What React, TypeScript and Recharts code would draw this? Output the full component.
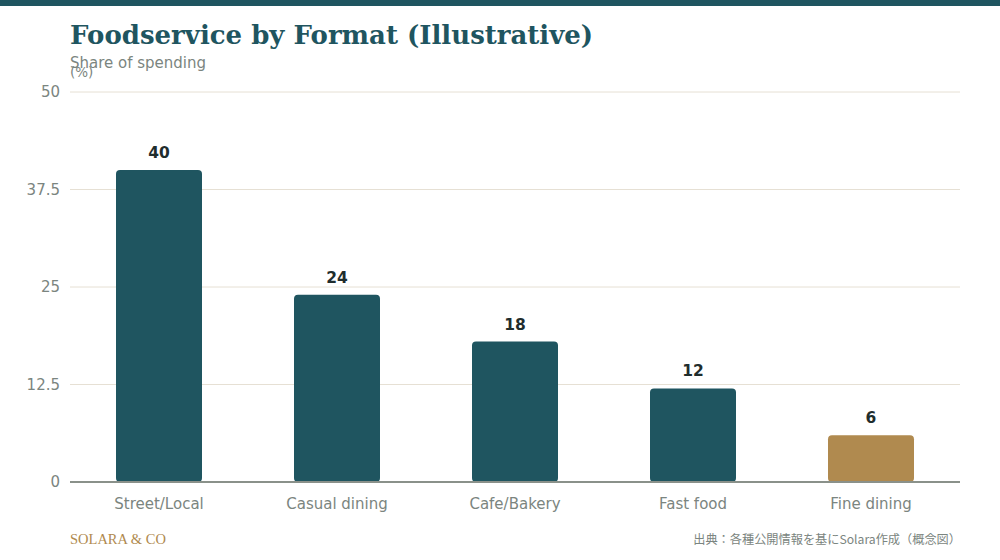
import React from "react";
import { BarChart, Bar, XAxis, YAxis, CartesianGrid, LabelList, Cell } from "recharts";

const categories = ["Street/Local", "Casual dining", "Cafe/Bakery", "Fast food", "Fine dining"];
const shares = [40, 24, 18, 12, 6];
const highlight = [false, false, false, false, true];
const yTicks = [0, 12.5, 25, 37.5, 50];

const data = categories.map((name, i) => ({ name, value: shares[i], hl: highlight[i] }));

const TEAL = "#1f5560";
const GOLD = "#b08a4f";
const GRAY = "#7b8580";

export default function App() {
  return (
    <div style={{ position: "fixed", left: 0, top: 0, width: 1000, height: 560, background: "#fff", fontFamily: "'DejaVu Sans', sans-serif" }}>
      <div style={{ position: "absolute", left: 0, top: 0, width: 1000, height: 6, background: TEAL }} />
      <div style={{ position: "absolute", left: 70, top: 20, fontFamily: "'DejaVu Serif', serif", fontWeight: 700, fontSize: 26, color: TEAL, whiteSpace: "nowrap" }}>
        Foodservice by Format (Illustrative)
      </div>
      <div style={{ position: "absolute", left: 70, top: 54, fontSize: 15, color: GRAY, whiteSpace: "nowrap" }}>
        Share of spending
      </div>
      <BarChart
        width={1000}
        height={560}
        data={data}
        margin={{ top: 92, right: 40, bottom: 48, left: 10 }}
        style={{ position: "absolute", left: 0, top: 0 }}
      >
        <CartesianGrid vertical={false} stroke="#e6e0d4" strokeWidth={1} />
        <XAxis
          dataKey="name"
          axisLine={{ stroke: "#8a918a", strokeWidth: 2 }}
          tickLine={false}
          tickSize={0}
          tickMargin={16}
          height={30}
          tick={{ fill: GRAY, fontSize: 15, fontFamily: "'DejaVu Sans', sans-serif" }}
        />
        <YAxis
          domain={[0, 50]}
          ticks={yTicks}
          axisLine={false}
          tickLine={false}
          tickSize={0}
          tickMargin={10}
          width={60}
          tick={{ fill: GRAY, fontSize: 15, fontFamily: "'DejaVu Sans', sans-serif" }}
          label={{
            content: () => (
              <text x={70} y={77} fill={GRAY} fontSize={13.5} fontFamily="'DejaVu Sans', sans-serif">(%)</text>
            ),
          }}
        />
        <Bar dataKey="value" barSize={86} radius={4} isAnimationActive={false}>
          {data.map((d, i) => (
            <Cell key={i} fill={d.hl ? GOLD : TEAL} />
          ))}
          <LabelList
            dataKey="value"
            position="top"
            offset={12}
            fill="#1f2d2d"
            fontSize={15.5}
            fontWeight={700}
            fontFamily="'DejaVu Sans', sans-serif"
          />
        </Bar>
      </BarChart>
      <div style={{ position: "absolute", left: 70, top: 531, fontFamily: "'Liberation Serif', serif", fontSize: 14.5, color: GOLD, whiteSpace: "nowrap" }}>
        SOLARA &amp; CO
      </div>
      <div style={{ position: "absolute", right: 39, top: 530, fontFamily: "'Noto Sans CJK JP', sans-serif", fontSize: 12.2, color: GRAY, whiteSpace: "nowrap" }}>
        出典：各種公開情報を基にSolara作成（概念図）
      </div>
    </div>
  );
}
